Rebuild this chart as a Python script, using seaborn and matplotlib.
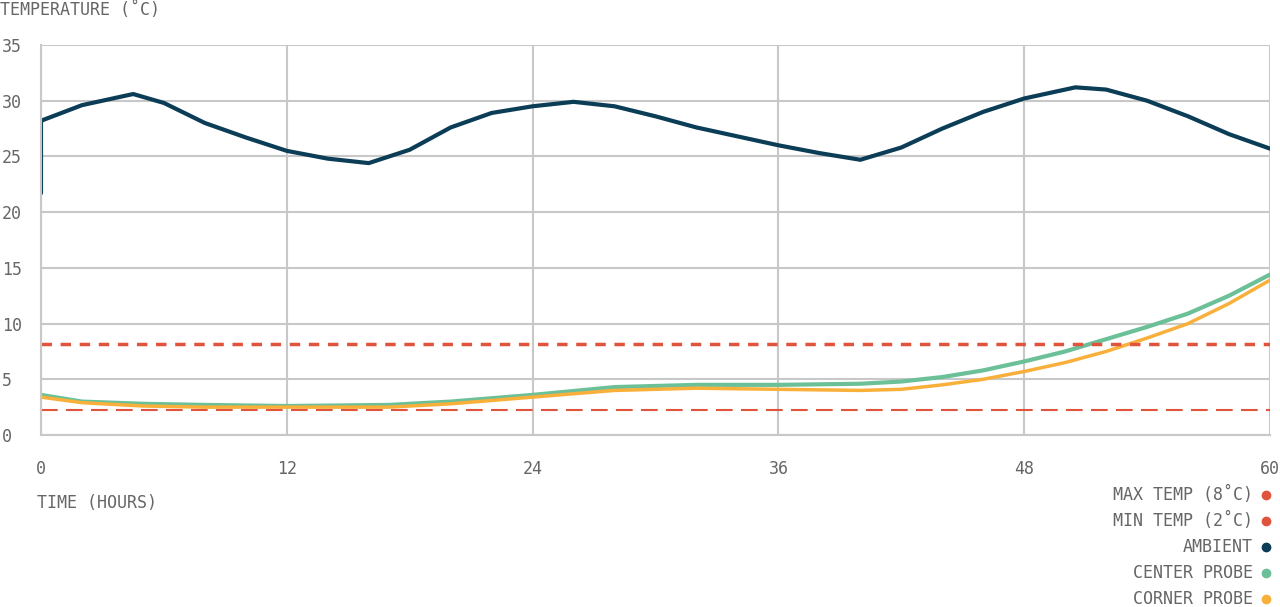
import numpy as np
import pandas as pd
import matplotlib
matplotlib.use('Agg')
import matplotlib.pyplot as plt
import seaborn as sns
from matplotlib.lines import Line2D

# Data
hours = [0, 0, 2, 4.5, 6, 8, 10, 12, 14, 16, 18, 20, 22, 24, 26, 28, 30, 32, 34, 36, 38, 40,
         42, 44, 46, 48, 50.5, 52, 54, 56, 58, 60]
ambient = [21.7, 28.2, 29.6, 30.6, 29.8, 28.0, 26.7, 25.5, 24.8, 24.4, 25.6, 27.6, 28.9, 29.5,
           29.9, 29.5, 28.6, 27.6, 26.8, 26.0, 25.3, 24.7, 25.8, 27.5, 29.0, 30.2, 31.2, 31.0,
           30.0, 28.6, 27.0, 25.7]
probe_hours = [0, 2, 5, 8, 12, 17, 20, 24, 28, 32, 36, 40, 42, 44, 46, 48, 50, 52, 54, 56, 58, 60]
center = [3.6, 3.0, 2.8, 2.7, 2.6, 2.7, 3.0, 3.6, 4.3, 4.5, 4.5, 4.6, 4.8, 5.2, 5.8, 6.6, 7.5,
          8.6, 9.7, 10.9, 12.5, 14.4]
corner = [3.4, 2.9, 2.6, 2.5, 2.5, 2.5, 2.8, 3.4, 4.0, 4.2, 4.1, 4.0, 4.1, 4.5, 5.0, 5.7, 6.5,
          7.5, 8.7, 10.0, 11.8, 13.9]
max_temp = 8.2
min_temp = 2.2

c_amb = '#0b3d57'
c_center = '#6cc098'
c_corner = '#f8b03a'
c_red = '#e0533c'
grey = '#666666'

sns.set_theme(style='white')
plt.rcParams['font.family'] = ['DejaVu Sans Mono']

fig = plt.figure(figsize=(12.8, 6.07), dpi=100)
ax = fig.add_axes([41/1280, 1-435/607, 1229/1280, 390/607])

amb_df = pd.DataFrame({'t': hours, 'v': ambient})
ax.plot(amb_df.t, amb_df.v, color=c_amb, lw=3, solid_joinstyle='round')
probes = pd.DataFrame({'t': probe_hours, 'center': center, 'corner': corner})
sns.lineplot(data=probes, x='t', y='center', color=c_center, lw=3, ax=ax)
sns.lineplot(data=probes, x='t', y='corner', color=c_corner, lw=2.5, ax=ax)
ax.axhline(max_temp, color=c_red, lw=2.5, ls=(0, (3, 2.5)))
ax.axhline(min_temp, color=c_red, lw=1.5, ls=(0, (8, 4)))

ax.set_xlim(0, 60)
ax.set_ylim(0, 35)
ax.set_xticks([0, 12, 24, 36, 48, 60])
ax.set_yticks(range(0, 36, 5))
ax.grid(True, color='#c8c8c8', lw=1.5)
for s in ['top', 'right']:
    ax.spines[s].set_visible(False)
for s in ['left', 'bottom']:
    ax.spines[s].set_color('#c8c8c8')
    ax.spines[s].set_linewidth(1.5)
ax.tick_params(axis='x', colors=grey, labelsize=12, pad=18, length=0)
ax.tick_params(axis='y', colors=grey, labelsize=12, pad=28, length=0)
for lbl in ax.get_yticklabels():
    lbl.set_horizontalalignment('left')
ax.set_xlabel('')
ax.set_ylabel('')

fig.text(0, 1-10/607, 'TEMPERATURE (˚C)', color=grey, fontsize=12, va='center')
fig.text(37/1280, 1-503/607, 'TIME (HOURS)', color=grey, fontsize=12, va='center')

legend_items = [('MAX TEMP (8˚C)', c_red), ('MIN TEMP (2˚C)', c_red), ('AMBIENT', c_amb),
                ('CENTER PROBE', c_center), ('CORNER PROBE', c_corner)]
for i, (name, col) in enumerate(legend_items):
    y = 1 - (495 + 26*i)/607
    fig.text(1253/1280, y, name, color=grey, fontsize=12, ha='right', va='center')
    fig.add_artist(Line2D([1266/1280], [y], marker='o', ms=6, color=col, lw=0,
                          transform=fig.transFigure))

fig.savefig('out.png', dpi=100)
